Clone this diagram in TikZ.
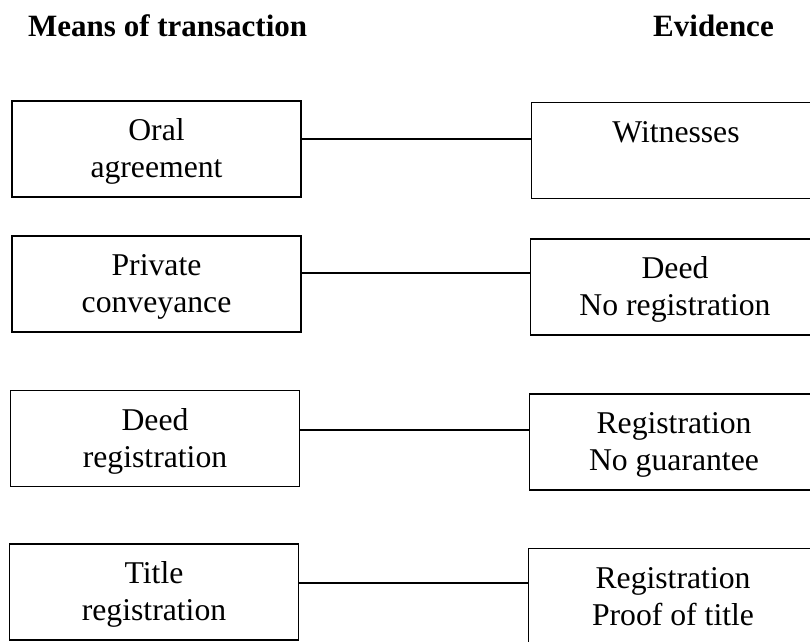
\documentclass[tikz,border=0pt]{standalone}
\usepackage{fontspec}
\setmainfont{Liberation Serif}
\newcommand\bodyfnt{\fontsize{31.7pt}{37pt}\selectfont}
\newcommand\hdrfnt{\fontsize{31pt}{37pt}\selectfont\bfseries}
\newcommand\twol[2]{\begin{tabular}[t]{@{}c@{}}#1\\#2\end{tabular}}
\newcommand\onel[1]{\begin{tabular}[t]{@{}c@{}}#1\end{tabular}}
\begin{document}
\begin{tikzpicture}[x=1pt,y=-1pt,
  box/.style={draw, line width=1.4pt, inner sep=0pt, minimum width=289pt,
    text height=39.5pt, text depth=56.5pt, font=\bodyfnt},
  hdr/.style={inner sep=0pt, anchor=base west, font=\hdrfnt},
  link/.style={line width=1.4pt}]
\useasboundingbox (0,0) rectangle (810,641);
\clip (0,0) rectangle (810,641);
\node[hdr] (h1) at (28,36.5) {Means of transaction};
\node[hdr] (h2) at (653,36.5) {Evidence};
\node[box] (L1) at (156.5,149) {\twol{Oral}{agreement}};
\node[box] (L2) at (156.5,284) {\twol{Private}{conveyance}};
\node[box] (L3) at (155,438.5) {\twol{Deed}{registration}};
\node[box] (L4) at (154,592) {\twol{Title}{registration}};
\node[box] (R1) at (676,150.5) {\onel{Witnesses}};
\node[box] (R2) at (675,287) {\twol{Deed}{No registration}};
\node[box] (R3) at (674,442) {\twol{Registration}{No guarantee}};
\node[box] (R4) at (673,596.5) {\twol{Registration}{Proof of title}};
\draw[link] ([yshift=10pt]L1.east) -- ([yshift=10pt]L1.east -| R1.west);
\draw[link] ([yshift=11pt]L2.east) -- ([yshift=11pt]L2.east -| R2.west);
\draw[link] ([yshift=8.5pt]L3.east) -- ([yshift=8.5pt]L3.east -| R3.west);
\draw[link] ([yshift=9pt]L4.east) -- ([yshift=9pt]L4.east -| R4.west);
\end{tikzpicture}
\end{document}
